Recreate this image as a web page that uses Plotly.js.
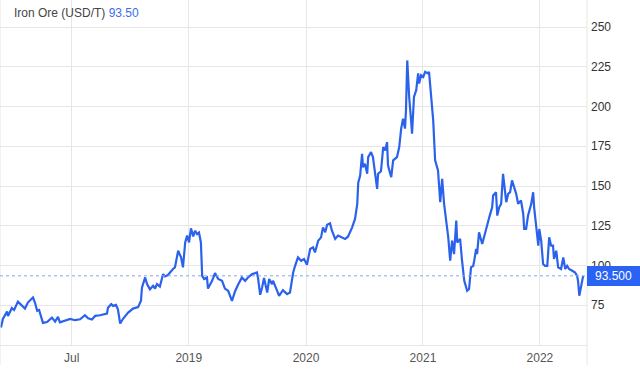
<!DOCTYPE html>
<html>
<head>
<meta charset="utf-8">
<script src="https://cdn.plot.ly/plotly-3.0.1.min.js"></script>
<style>html,body{margin:0;padding:0;background:#fff;}#chart{width:640px;height:378px;}</style>
</head>
<body>
<div id="chart"></div>
<script>
const dates = [
"2017-11-22","2017-11-28","2017-12-11","2017-12-14","2017-12-26","2018-01-02","2018-01-14","2018-01-24","2018-02-05","2018-02-14",
"2018-03-02","2018-03-08","2018-03-15","2018-03-21","2018-03-30","2018-04-02","2018-04-15","2018-04-24","2018-04-30","2018-05-10",
"2018-05-19","2018-05-25","2018-06-10","2018-06-26","2018-07-11","2018-07-27","2018-08-11","2018-08-21","2018-09-02","2018-09-12",
"2018-09-27","2018-10-19","2018-10-22","2018-11-01","2018-11-07","2018-11-16","2018-11-22","2018-11-29","2018-12-08","2018-12-24",
"2019-01-08","2019-01-24","2019-02-02","2019-02-05","2019-02-15","2019-02-21","2019-03-02","2019-03-12","2019-03-18","2019-03-24",
"2019-04-02","2019-04-12","2019-04-18","2019-04-27","2019-05-13","2019-05-19","2019-05-29","2019-06-07","2019-06-13","2019-06-20",
"2019-06-26","2019-07-02","2019-07-08","2019-07-15","2019-07-21","2019-07-27","2019-08-02","2019-08-08","2019-08-12","2019-08-18",
"2019-08-27","2019-08-30","2019-09-12","2019-09-21","2019-10-01","2019-10-13","2019-10-22","2019-11-01","2019-11-13","2019-11-23",
"2019-12-02","2019-12-14","2019-12-24","2020-01-02","2020-01-15","2020-01-30","2020-02-02","2020-02-09","2020-02-15","2020-02-21",
"2020-03-02","2020-03-08","2020-03-17","2020-03-20","2020-04-02","2020-04-08","2020-04-20","2020-05-03","2020-05-12","2020-05-22",
"2020-05-28","2020-06-06","2020-06-16","2020-06-25","2020-07-04","2020-07-14","2020-07-23","2020-07-29","2020-08-08","2020-08-17",
"2020-08-23","2020-08-30","2020-09-05","2020-09-14","2020-09-20","2020-09-30","2020-10-09","2020-10-22","2020-10-31","2020-11-09",
"2020-11-22","2020-12-01","2020-12-08","2020-12-11","2020-12-17","2020-12-23","2020-12-26","2021-01-01","2021-01-08","2021-01-11",
"2021-01-20","2021-01-26","2021-02-02","2021-02-08","2021-02-11","2021-02-20","2021-02-27","2021-03-05","2021-03-11","2021-03-14",
"2021-03-24","2021-03-30","2021-04-11","2021-04-18","2021-04-24","2021-04-30","2021-05-06","2021-05-09","2021-05-13","2021-05-16",
"2021-05-19","2021-05-25","2021-05-28","2021-06-03","2021-06-10","2021-06-16","2021-06-19","2021-06-25","2021-07-02","2021-07-08",
"2021-07-17","2021-07-20","2021-07-27","2021-08-02","2021-08-08","2021-08-17","2021-08-24","2021-08-30","2021-09-05","2021-09-11",
"2021-09-18","2021-09-24","2021-09-30","2021-10-06","2021-10-13","2021-10-16","2021-10-25","2021-10-31","2021-11-07","2021-11-16",
"2021-11-22","2021-11-28","2021-12-05","2021-12-08","2021-12-14","2021-12-17","2021-12-23","2022-01-02","2022-01-11","2022-01-17",
"2022-01-24","2022-02-02","2022-02-05","2022-02-14","2022-02-18","2022-02-24","2022-03-02","2022-03-08","2022-03-11","2022-03-18",
"2022-03-24","2022-03-30","2022-04-05","2022-04-12","2022-04-18","2022-04-24","2022-05-03","2022-05-10","2022-05-13","2022-05-19",
"2022-05-25","2022-06-04","2022-06-10","2022-06-13","2022-06-19","2022-06-26","2022-06-29","2022-07-05","2022-07-11","2022-07-17",
"2022-07-24","2022-07-30","2022-08-05","2022-08-11","2022-08-14","2022-08-21","2022-08-27","2022-09-05","2022-09-12","2022-09-18",
"2022-09-24","2022-09-30","2022-10-10","2022-10-19","2022-10-25","2022-10-28","2022-11-01","2022-11-07","2022-11-13"
];
const prices = [
61.0,66.4,71.0,68.3,73.3,72.0,77.3,75.2,72.9,76.7,
79.9,76.7,71.5,72.0,65.1,63.9,64.5,65.8,67.2,64.7,
67.7,64.3,65.6,66.4,65.6,66.2,68.7,66.8,66.0,68.3,
68.7,69.8,73.5,75.7,74.6,75.2,72.5,63.5,66.5,70.4,
72.9,73.8,77.8,86.0,92.5,88.3,85.0,87.2,85.5,88.3,
86.8,94.6,93.1,94.0,97.8,98.8,109.3,105.1,98.8,114.5,
118.8,114.5,123.4,118.3,121.9,119.8,120.8,114.5,93.5,91.5,
92.5,85.5,90.4,95.2,91.5,90.4,85.5,84.1,77.8,84.0,
87.9,92.5,90.4,92.5,94.6,95.6,92.5,81.6,86.2,92.1,
83.0,91.5,88.3,90.4,84.1,80.9,84.5,82.0,83.0,95.6,
99.8,105.1,103.0,104.1,100.5,110.4,111.4,108.2,115.6,117.7,
124.0,120.9,125.7,126.6,121.9,116.7,118.8,117.7,116.7,118.1,
124.0,129.3,138.8,152.0,156.6,170.3,161.9,164.0,157.7,168.2,
171.3,168.2,158.7,148.2,157.7,159.3,174.5,172.4,177.6,162.9,
155.6,166.1,168.2,174.5,186.1,192.4,186.1,197.6,229.0,216.6,
206.0,191.3,182.9,206.0,210.3,220.8,214.5,219.7,218.6,221.8,
220.8,221.8,203.9,191.3,166.1,159.8,139.8,154.5,138.8,130.3,
117.7,103.0,115.6,107.2,128.2,114.5,116.7,103.0,90.4,84.1,
85.2,98.8,99.8,103.0,110.4,107.2,120.9,113.5,120.9,126.1,
130.3,136.6,144.0,146.1,131.4,136.6,138.8,157.7,151.4,139.8,
145.1,146.1,153.5,149.2,145.1,138.8,140.9,132.4,123.0,123.0,
131.4,138.8,146.1,136.6,124.0,112.5,123.0,115.6,100.9,99.8,
99.8,117.7,112.5,112.5,104.1,109.3,98.8,97.8,105.1,97.8,
99.8,97.8,96.7,95.6,93.5,90.4,81.0,86.2,93.5
];
const xTickVals = ["2018-07-01","2019-07-01","2020-07-01","2021-07-01","2022-07-01"];
const xTickText = ["Jul","2019","2020","2021","2022"];
const yTickVals = [75,100,125,150,175,200,225,250];
const seriesName = "Iron Ore (USD/T)";
const lastValue = 93.50;

const blue = "#2b62ec";
const grid = "#e6e6e6";

const trace = {
  x: dates, y: prices, type: "scatter", mode: "lines",
  line: {color: blue, width: 2.2}, hoverinfo: "skip"
};

const layout = {
  width: 640, height: 378,
  margin: {l: 0, r: 53, t: 0, b: 33, pad: 0},
  paper_bgcolor: "#fff", plot_bgcolor: "#fff",
  showlegend: false,
  font: {family: "Liberation Sans, Arial, sans-serif", size: 12, color: "#333"},
  xaxis: {
    type: "date", range: ["2017-11-19", "2022-11-25"],
    tickvals: xTickVals, ticktext: xTickText,
    showgrid: true, gridcolor: grid, gridwidth: 1,
    showline: true, linecolor: grid, linewidth: 1,
    ticks: "", ticklabelstandoff: 2,
    tickfont: {size: 12, color: "#555"}, zeroline: false, fixedrange: true
  },
  yaxis: {
    side: "right", range: [50, 267],
    tickvals: yTickVals, ticktext: yTickVals.map(String),
    showgrid: true, gridcolor: grid, gridwidth: 1,
    showline: false, zeroline: false, ticks: "", ticklabelstandoff: 3,
    tickfont: {size: 12, color: "#333"}, fixedrange: true
  },
  shapes: [
    {type: "line", xref: "paper", yref: "paper", x0: 0, x1: 0, y0: 1, y1: -0.058, line: {color: grid, width: 1}},
    {type: "line", xref: "paper", yref: "paper", x0: 1, x1: 1, y0: 1, y1: -0.058, line: {color: grid, width: 1}},
    {type: "line", xref: "paper", yref: "y", x0: 0, x1: 1, y0: lastValue, y1: lastValue, line: {color: "#8aa6f5", width: 1, dash: "dot"}}
  ],
  annotations: [
    {xref: "paper", yref: "paper", x: 0, y: 1, xanchor: "left", yanchor: "top", xshift: 12, yshift: -4,
     showarrow: false, align: "left",
     text: seriesName + ' <span style="color:#3d6cf0">' + lastValue.toFixed(2) + '</span>',
     font: {size: 12, color: "#444"}},
    {xref: "paper", yref: "y", x: 1, y: lastValue, xanchor: "left", yanchor: "middle",
     showarrow: false, text: lastValue.toFixed(3), bgcolor: "#2962f5", borderpad: 2, borderwidth: 0,
     width: 49, height: 16, font: {size: 12, color: "#fff"}}
  ]
};

Plotly.newPlot("chart", [trace], layout, {displayModeBar: false, staticPlot: true});
</script>
</body>
</html>
